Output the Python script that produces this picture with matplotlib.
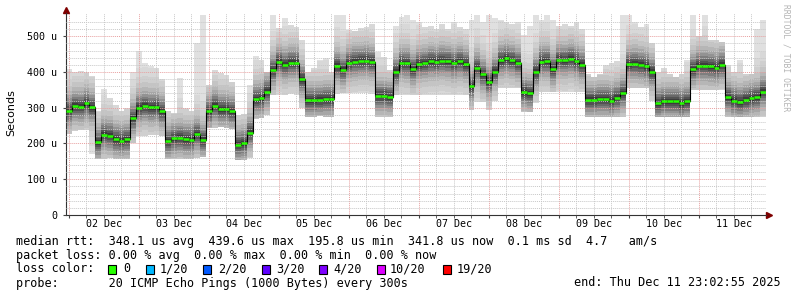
import numpy as np
import matplotlib.pyplot as plt

# median rtt per 2-hour step (us), start Thu Dec 01 23:02:55
median_rtt = [292, 305, 303, 312, 302, 203, 225, 222, 212, 208,
              212, 270, 300, 305, 301, 302, 290, 206, 214, 216,
              212, 211, 226, 210, 290, 306, 296, 296, 290, 197,
              200, 230, 324, 326, 345, 405, 428, 420, 426, 426,
              380, 321, 321, 322, 324, 324, 417, 406, 425, 429,
              431, 432, 428, 333, 333, 330, 400, 425, 424, 408,
              422, 425, 430, 428, 432, 430, 424, 430, 422, 360,
              412, 393, 372, 400, 433, 438, 433, 425, 344, 340,
              400, 429, 430, 408, 434, 433, 437, 430, 420, 322,
              322, 324, 324, 320, 328, 340, 422, 423, 420, 416,
              400, 312, 318, 318, 318, 312, 318, 408, 418, 418,
              416, 412, 420, 330, 320, 316, 322, 327, 330, 345]

# fastest / slowest ping per step (us)
smoke_lo = [226, 235, 238, 238, 170, 158, 158, 160, 156, 158,
            158, 200, 220, 222, 225, 225, 222, 158, 158, 158,
            158, 158, 160, 163, 242, 242, 245, 242, 240, 154,
            154, 160, 268, 270, 280, 335, 335, 335, 338, 335,
            300, 275, 275, 276, 275, 275, 338, 340, 340, 342,
            340, 340, 338, 275, 275, 275, 336, 335, 336, 335,
            335, 335, 335, 335, 335, 335, 335, 335, 335, 294,
            317, 317, 294, 320, 354, 354, 354, 354, 289, 289,
            312, 345, 345, 345, 345, 345, 345, 345, 345, 275,
            275, 275, 275, 275, 275, 275, 354, 354, 354, 354,
            320, 275, 275, 275, 275, 275, 275, 350, 350, 350,
            350, 350, 350, 275, 275, 275, 275, 275, 275, 275]

smoke_hi = [407, 401, 404, 401, 390, 290, 352, 326, 308, 290,
            300, 400, 460, 424, 417, 412, 380, 290, 285, 383,
            300, 292, 480, 560, 365, 406, 396, 392, 373, 280,
            282, 364, 445, 434, 400, 560, 522, 550, 531, 527,
            490, 401, 410, 434, 440, 401, 560, 560, 517, 515,
            522, 527, 535, 457, 443, 406, 530, 555, 560, 545,
            540, 525, 530, 520, 535, 520, 540, 525, 520, 545,
            560, 540, 560, 550, 545, 540, 535, 540, 503, 530,
            560, 545, 560, 545, 530, 535, 530, 540, 520, 395,
            385, 395, 420, 425, 430, 560, 560, 540, 525, 535,
            480, 400, 410, 395, 385, 395, 434, 560, 500, 560,
            490, 490, 485, 420, 401, 434, 395, 395, 520, 545]

days = ['02 Dec', '03 Dec', '04 Dec', '05 Dec', '06 Dec',
        '07 Dec', '08 Dec', '09 Dec', '10 Dec', '11 Dec']
loss_labels = ['0', '1/20', '2/20', '3/20', '4/20', '10/20', '19/20']
loss_colors = ['#26ff00', '#00b8ff', '#0059ff', '#5e00ff', '#7e00ff', '#dd00ff', '#ff0000']

W, H = 797, 297
MONO = 'DejaVu Sans Mono'
step_h = 2
first_midnight = 0.9514  # hours from start to Dec 02 00:00

med = np.array(median_rtt, dtype=float)
lo = np.array(smoke_lo, dtype=float)
hi = np.array(smoke_hi, dtype=float)
edges = np.arange(len(med) + 1) * step_h


def ext(a):
    return np.append(a, a[-1])


fig = plt.figure(figsize=(W / 100, H / 100), dpi=100)
fig.patch.set_facecolor('white')
ax = fig.add_axes([66 / W, 1 - 215 / H, 700 / W, 202 / H])

# smoke: light outer band, darker towards the median
ax.fill_between(edges, ext(lo), ext(hi), step='post', color='#e0e0e0', lw=0, zorder=1)
widths = [110, 85, 68, 54, 43, 34, 26, 19, 13, 7]
grays = ['#d8d8d8', '#cfcfcf', '#c4c4c4', '#b6b6b6', '#a6a6a6',
         '#939393', '#7e7e7e', '#686868', '#525252', '#3c3c3c']
for w, c in zip(widths, grays):
    ax.fill_between(edges, ext(np.maximum(med - w, lo)), ext(np.minimum(med + w, hi)),
                    step='post', color=c, lw=0, zorder=1)

# median
ax.step(edges, ext(med), where='post', color='black', lw=0.8, zorder=3)
ax.hlines(med, edges[:-1], edges[1:], color=loss_colors[0], lw=1.8, zorder=4)

midnights = first_midnight + 24 * np.arange(10)
ax.set_xticks(midnights)
ax.set_xticks(first_midnight + 6 * np.arange(0, 40), minor=True)
ax.set_yticks(np.arange(0, 501, 100))
ax.set_yticks(np.arange(0, 541, 20), minor=True)
ax.set_xlim(0, 240)
ax.set_ylim(0, 565)
ax.set_xticklabels([])
ax.set_yticklabels(['0'] + ['%d u' % v for v in range(100, 501, 100)], family=MONO, fontsize=7.2)
ax.tick_params(axis='y', which='major', length=2.5, pad=4, color='#444444')
ax.tick_params(axis='y', which='minor', length=0)
ax.tick_params(axis='x', which='both', length=2, color='#444444')

ax.grid(which='minor', color='#c8c8c8', ls=(0, (1, 1)), lw=0.7)
ax.grid(which='major', color='#e8a0a0', ls=(0, (1, 1)), lw=0.7)
ax.set_axisbelow(False)

for s in ['top', 'right']:
    ax.spines[s].set_visible(False)
for s in ['left', 'bottom']:
    ax.spines[s].set_color('#333333')
    ax.spines[s].set_linewidth(0.8)

ax.plot(0, 1.015, marker='^', color='#7f0000', ms=4, transform=ax.transAxes, clip_on=False)
ax.plot(1.005, 0, marker='>', color='#7f0000', ms=4, transform=ax.transAxes, clip_on=False)

for i, d in enumerate(days):
    ax.text(first_midnight + 12 + 24 * i, -9 / 202, d, transform=ax.get_xaxis_transform(),
            ha='center', va='center', family=MONO, fontsize=7.2)

fig.text(11 / W, 1 - 113 / H, 'Seconds', rotation=90, ha='center', va='center', fontsize=8)
fig.text(786 / W, 1 - 4 / H, 'RRDTOOL / TOBI OETIKER', rotation=270, ha='center', va='top',
         family=MONO, fontsize=5.8, color='#b4b4b4')

# legend
fs = 8.5
fig.text(16 / W, 1 - 241 / H,
         'median rtt:  348.1 us avg  439.6 us max  195.8 us min  341.8 us now  0.1 ms sd  4.7   am/s',
         va='center', family=MONO, fontsize=fs)
fig.text(16 / W, 1 - 255 / H, 'packet loss: 0.00 % avg  0.00 % max  0.00 % min  0.00 % now',
         va='center', family=MONO, fontsize=fs)
fig.text(16 / W, 1 - 269 / H, 'loss color:', va='center', family=MONO, fontsize=fs)
box_x = [108, 146, 203, 262, 319, 377, 443]
label_x = [123, 160, 218, 276, 333, 390, 457]
for bx, lx, lab, col in zip(box_x, label_x, loss_labels, loss_colors):
    fig.patches.append(plt.Rectangle((bx / W, 1 - 273.5 / H), 8 / W, 9 / H, transform=fig.transFigure,
                                     facecolor=col, edgecolor='black', lw=0.8))
    fig.text(lx / W, 1 - 269 / H, lab, va='center', family=MONO, fontsize=fs)
fig.text(16 / W, 1 - 283 / H, 'probe:       20 ICMP Echo Pings (1000 Bytes) every 300s',
         va='center', family=MONO, fontsize=fs)
fig.text(781 / W, 1 - 283 / H, 'end: Thu Dec 11 23:02:55 2025', ha='right', va='center',
         family=MONO, fontsize=fs)

fig.savefig('out.png', dpi=100, facecolor='white')
